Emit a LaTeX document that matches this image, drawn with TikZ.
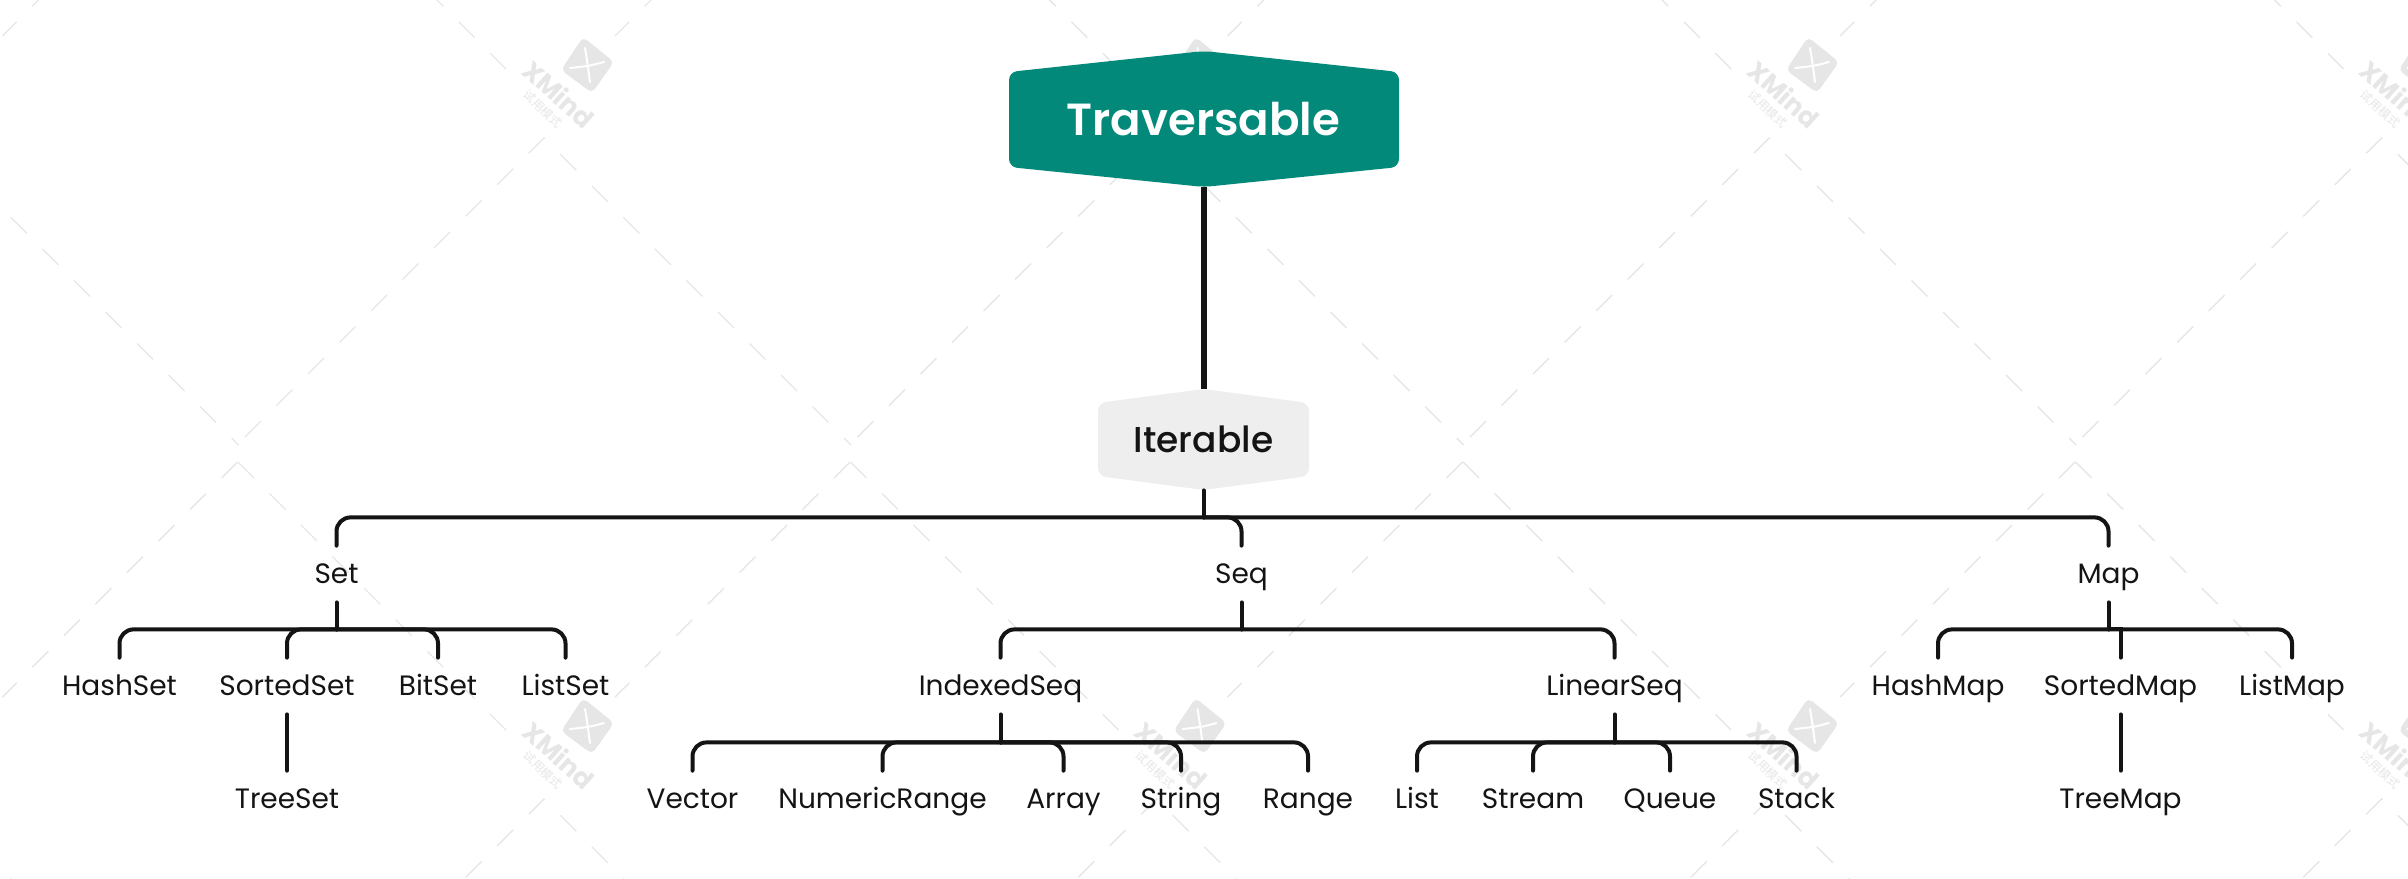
\documentclass[tikz,border=0pt]{standalone}
\usepackage{fontspec}
\setmainfont{Poppins}
\newfontfamily\medfont{Poppins Medium}
\newfontfamily\semifont{Poppins SemiBold}
\newfontfamily\cjkmark{Noto Sans CJK SC}
\usetikzlibrary{positioning,calc}
\definecolor{rootgreen}{HTML}{02897A}
\definecolor{hubgrey}{HTML}{EEEEEE}
\definecolor{inkblack}{HTML}{141414}
\definecolor{markgrey}{HTML}{E6E6E6}
\tikzset{
  leaf/.style={font=\fontsize{14pt}{16pt}\selectfont,text=inkblack,inner sep=0pt,text height=18.5pt,text depth=9.5pt},
  trunk/.style={draw=inkblack,line width=3pt},
  twig/.style={draw=inkblack,line width=2pt,line cap=round},
  twigbend/.style={twig,rounded corners=7pt},
  markline/.style={draw=markgrey,line width=0.7pt},
}
\begin{document}
\begin{tikzpicture}[x=0.5pt,y=-0.5pt]
\useasboundingbox (0,0) rectangle (2408,878);
% ---- watermark tiles (drawn first so they sit behind) ----
\begin{scope}
\clip (0,0) rectangle (2408,878);
\foreach \xo in {-68.5,544,1156.5,1769,2381.5} {
  \foreach \yo in {-523,138,799} {
    \begin{scope}[shift={(\xo,\yo)}]
    \draw[markline,dash pattern=on 11.3pt off 11pt,dash phase=16.7pt] (-307,307) -- (0,0) -- (307,307);
    \draw[markline,dash pattern=on 11.3pt off 11pt] (-306,324) -- (-38,592);
    \draw[markline,dash pattern=on 11.3pt off 11pt] (306,324) -- (71,559);
    \end{scope}
  }
}
\foreach \xo in {544,1156.5,1769,2381.5} {
  \foreach \yo in {138,799} {
    \begin{scope}[shift={(\xo,\yo)}]
    \fill[markgrey,rounded corners=2.5pt] (39,-101) -- (70,-76) -- (48,-45) -- (17,-68) -- cycle;
    \draw[white,line width=1pt,line cap=round] (41,-90) .. controls (43,-78) .. (46,-56);
    \draw[white,line width=1pt,line cap=round] (26,-70) .. controls (45,-72) .. (60,-76);
    \node[font=\bfseries\fontsize{13pt}{15pt}\selectfont,text=markgrey,rotate=-42,inner sep=0pt] at (15,-44) {XMind};
    \node[font=\cjkmark\fontsize{6pt}{7pt}\selectfont,text=markgrey,rotate=-43,inner sep=0pt] at (-1,-29) {试用模式};
    \end{scope}
  }
}
\end{scope}
% ---- hexagon plates ----
\fill[rootgreen,rounded corners=4pt] (1009,119) -- (1009,72) -- (1204,51) -- (1399,72) -- (1399,167) -- (1204,187) -- (1009,167) -- cycle;
\fill[hubgrey,rounded corners=4pt] (1098,440) -- (1098,403) -- (1203.5,389) -- (1309,403) -- (1309,476) -- (1203.5,490) -- (1098,476) -- cycle;
\node[font=\semifont\fontsize{22.5pt}{26pt}\selectfont,text=white,inner sep=0pt,minimum width=195pt,minimum height=68pt] (traversable) at (1203.5,119) {Traversable};
\node[font=\medfont\fontsize{18pt}{21pt}\selectfont,text=inkblack,inner sep=0pt,minimum width=105.5pt,minimum height=50.5pt] (iterable) at (1203.5,439.5) {Iterable};
% ---- first level ----
\node[leaf] (set) at (336.5,574) {Set};
\node[leaf] (seq) at (1241.5,574) {Seq};
\node[leaf] (map) at (2108.5,574) {Map};
% ---- second level ----
\node[leaf] (hashset) at (119.5,686) {HashSet};
\node[leaf] (sortedset) at (287,686) {SortedSet};
\node[leaf] (bitset) at (438,686) {BitSet};
\node[leaf] (listset) at (565.5,686) {ListSet};
\node[leaf] (indexedseq) at (1000.5,686) {IndexedSeq};
\node[leaf] (linearseq) at (1614.5,686) {LinearSeq};
\node[leaf] (hashmap) at (1938,686) {HashMap};
\node[leaf] (sortedmap) at (2120.5,686) {SortedMap};
\node[leaf] (listmap) at (2292,686) {ListMap};
% ---- third level ----
\node[leaf] (treeset) at (287,799) {TreeSet};
\node[leaf] (vector) at (692.5,799) {Vector};
\node[leaf] (numericrange) at (882.5,799) {NumericRange};
\node[leaf] (array) at (1063.5,799) {Array};
\node[leaf] (string) at (1181,799) {String};
\node[leaf] (range) at (1308,799) {Range};
\node[leaf] (list) at (1417,799) {List};
\node[leaf] (stream) at (1533,799) {Stream};
\node[leaf] (queue) at (1670,799) {Queue};
\node[leaf] (stack) at (1796.5,799) {Stack};
\node[leaf] (treemap) at (2120.5,799) {TreeMap};
% ---- connectors ----
\draw[trunk] (traversable.south) -- (iterable.north);
\draw[twig] (iterable.south) -- ++(0,27);
\foreach \kid in {set,seq,map} {\draw[twigbend] (iterable.south) ++(0,27) -| (\kid.north);}
\draw[twig] (set.south) -- ++(0,27);
\foreach \kid in {hashset,sortedset,bitset,listset} {\draw[twigbend] (set.south) ++(0,27) -| (\kid.north);}
\draw[twig] (seq.south) -- ++(0,27);
\foreach \kid in {indexedseq,linearseq} {\draw[twigbend] (seq.south) ++(0,27) -| (\kid.north);}
\draw[twig] (map.south) -- ++(0,27);
\foreach \kid in {hashmap,listmap} {\draw[twigbend] (map.south) ++(0,27) -| (\kid.north);}
\draw[twig] (map.south) ++(0,27) -| (sortedmap.north);
\draw[twig] (indexedseq.south) -- ++(0,28);
\foreach \kid in {vector,numericrange,array,string,range} {\draw[twigbend] (indexedseq.south) ++(0,28) -| (\kid.north);}
\draw[twig] (linearseq.south) -- ++(0,28);
\foreach \kid in {list,stream,queue,stack} {\draw[twigbend] (linearseq.south) ++(0,28) -| (\kid.north);}
\draw[twig] (sortedset.south) -- (treeset.north);
\draw[twig] (sortedmap.south) -- (treemap.north);
\end{tikzpicture}
\end{document}
